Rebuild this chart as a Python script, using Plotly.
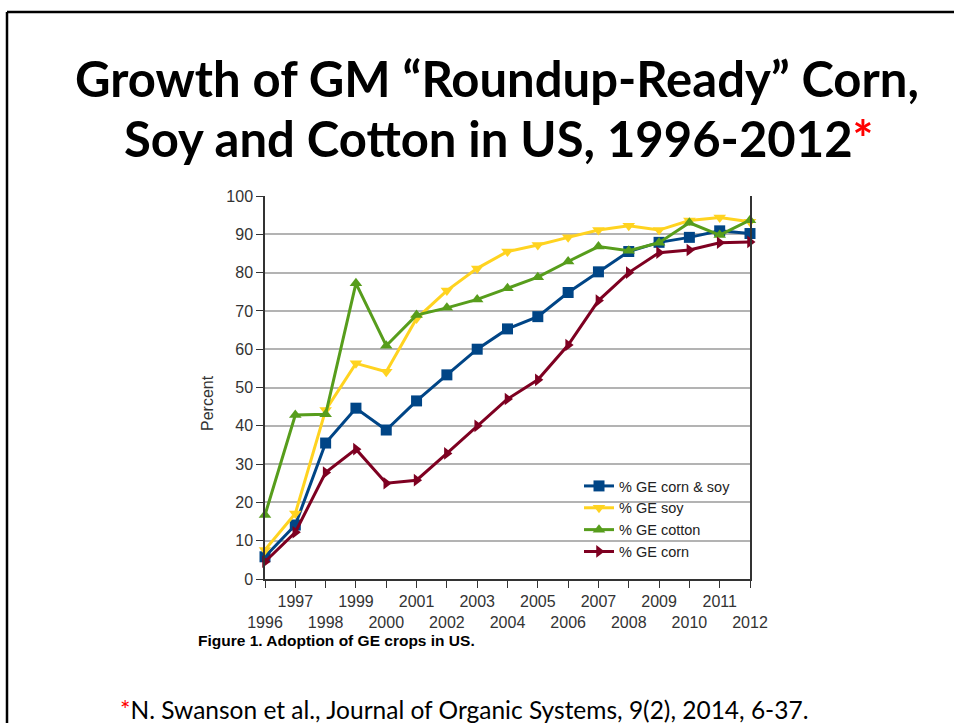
import plotly.graph_objects as go

years = list(range(1996, 2013))
corn_soy = [5.8, 14.1, 35.5, 44.6, 38.9, 46.5, 53.3, 60.0, 65.3, 68.5, 74.8, 80.2, 85.5, 87.9, 89.2, 90.9, 90.2]
soy = [7.6, 17.1, 44.1, 56.3, 54.1, 68.0, 75.3, 81.1, 85.5, 87.2, 89.2, 91.1, 92.2, 91.1, 93.6, 94.4, 93.3]
cotton = [16.7, 42.8, 43.0, 77.2, 60.9, 68.9, 70.8, 73.0, 75.9, 78.8, 82.9, 86.8, 85.7, 87.8, 93.0, 89.8, 93.7]
corn = [4.5, 12.2, 27.8, 33.9, 25.0, 25.8, 32.8, 40.0, 47.0, 52.0, 61.1, 72.7, 80.0, 85.2, 85.9, 87.8, 88.0]
tick_text = [("<br>%d" % y) if y % 2 == 0 else str(y) for y in years]

W, H = 954, 723
L, R, T, B = 265, 750, 196, 579


def px(x):
    return (x - L) / (R - L)


def py(y):
    return (B - y) / (B - T)


series = [
    ("% GE corn & soy", corn_soy, "#004586", "square"),
    ("% GE soy", soy, "#ffd320", "triangle-down"),
    ("% GE cotton", cotton, "#579d1c", "triangle-up"),
    ("% GE corn", corn, "#7e0021", "triangle-right"),
]

fig = go.Figure()
for name, vals, col, sym in series:
    fig.add_trace(go.Scatter(
        x=years, y=vals, name=name, mode="lines+markers",
        line=dict(color=col, width=3),
        marker=dict(symbol=sym, size=11, color=col),
        cliponaxis=False,
    ))

axis_font = dict(family="Liberation Sans", size=16, color="#333333")

fig.update_layout(
    width=W, height=H,
    margin=dict(l=L, r=W - R, t=T, b=H - B),
    paper_bgcolor="white", plot_bgcolor="white",
    showlegend=True,
    legend=dict(x=px(579), y=py(470), xanchor="left", yanchor="top",
                bgcolor="rgba(0,0,0,0)", font=dict(family="Liberation Sans", size=14.5, color="#222222"),
                tracegroupgap=0, itemwidth=30, traceorder="normal"),
    xaxis=dict(range=[1996, 2012], tickvals=years, ticktext=tick_text,
               showgrid=False, zeroline=False, showline=True, linecolor="#333333", linewidth=1.5,
               ticks="outside", ticklen=7, tickcolor="#333333", tickfont=axis_font, tickangle=0),
    yaxis=dict(range=[0, 100], dtick=10, showgrid=True, gridcolor="#b3b3b3", gridwidth=1.5,
               zeroline=False, showline=True, linecolor="#333333", linewidth=1.5, mirror=True,
               ticks="outside", ticklen=7, tickcolor="#333333", tickfont=axis_font),
    font=dict(family="Liberation Sans"),
)

fig.add_annotation(xref="paper", yref="paper", x=px(207), y=py(403), xanchor="center", yanchor="middle",
                   text="Percent", textangle=-90, showarrow=False,
                   font=dict(family="Liberation Sans", size=16, color="#333333"))

title_font = dict(family="Lato", size=49, color="black")
fig.add_annotation(xref="paper", yref="paper", x=px(497), y=py(78), xanchor="center", yanchor="middle",
                   text="<b>Growth of GM “Roundup-Ready” Corn,</b>", showarrow=False, font=title_font)
fig.add_annotation(xref="paper", yref="paper", x=px(498), y=py(138), xanchor="center", yanchor="middle",
                   text="<b>Soy and Cotton in US, 1996-2012<span style='color:#ff0000'>*</span></b>",
                   showarrow=False, font=title_font)
fig.add_annotation(xref="paper", yref="paper", x=px(196), y=py(640), xanchor="left", yanchor="middle",
                   text="<b>Figure 1. Adoption of GE crops in US.</b>", showarrow=False,
                   font=dict(family="Liberation Sans", size=15.5, color="black"))
fig.add_annotation(xref="paper", yref="paper", x=px(464), y=py(709), xanchor="center", yanchor="middle",
                   text="<span style='color:#ff0000'>*</span>N. Swanson et al., Journal of Organic Systems, 9(2), 2014, 6-37.",
                   showarrow=False, font=dict(family="Lato", size=24.5, color="black"))

fig.add_shape(type="line", xref="paper", yref="paper", x0=px(7), x1=px(954), y0=py(12), y1=py(12),
              line=dict(color="black", width=2.5))
fig.add_shape(type="line", xref="paper", yref="paper", x0=px(7), x1=px(7), y0=py(12), y1=py(723),
              line=dict(color="black", width=2.5))

fig.write_html("out.html", config=dict(displayModeBar=False),
               post_script="document.body.style.margin='0px';document.body.style.overflow='hidden';")
